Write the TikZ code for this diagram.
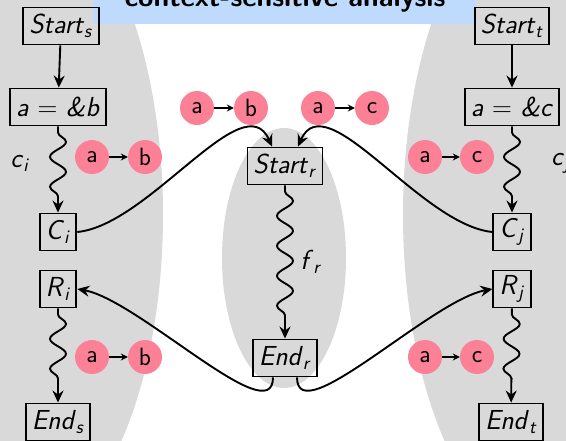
\documentclass[tikz,border=0pt]{standalone}
\usepackage{fix-cm}
\usepackage{amsmath}
\usepackage{fontspec}
\usetikzlibrary{decorations.pathmorphing,arrows.meta}
\definecolor{bggray}{RGB}{217,217,217}
\definecolor{tokpink}{RGB}{252,128,150}
\definecolor{titleblue}{RGB}{190,218,252}
\newcommand\tv[2]{\textsf{\itshape #1}\textsubscript{\textsf{\itshape #2}}}
\newcommand\vi[1]{\textsf{\itshape #1}}
\begin{document}
\begin{tikzpicture}[x=1pt,y=-1pt,
  every node/.style={font=\fontsize{27.5}{32}\selectfont\sffamily},
  stmt/.style={draw,line width=1.9pt,minimum height=37pt,inner xsep=6pt,inner ysep=3pt},
  tok/.style={circle,fill=tokpink,minimum size=34pt,inner sep=0pt,font=\fontsize{25}{28}\selectfont\sffamily},
  conn/.style={line width=1.9pt,-{Stealth[length=12pt,width=11pt,inset=4pt]}},
  wave/.style={conn,decorate,decoration={snake,amplitude=8pt,segment length=30pt,pre length=6pt,post length=13pt}},
  tokarrow/.style={line width=1.1pt,-{Stealth[length=7pt,width=7pt,inset=2.5pt]}},
  lbl/.style={inner sep=0pt}]
\useasboundingbox (0,0) rectangle (566,440);
\clip (0,0) rectangle (566,440);
% background regions
\fill[bggray] (13,215) ellipse [x radius=150, y radius=327];
\fill[bggray] (553,215) ellipse [x radius=150, y radius=327];
\fill[bggray] (284,258) ellipse [x radius=62, y radius=130];
% title
\fill[titleblue] (93,-40) rectangle (476,24);
\node[anchor=base,inner sep=0pt,font=\fontsize{28}{32}\selectfont\sffamily\bfseries] (title) at (285,6) {context-sensitive analysis};
% left procedure
\node[stmt] (Ss) at (61,26) {\tv{Start}{s}};
\node[stmt] (Ab) at (58,107) {\vi{a} $=$ \vi{\&b}};
\node[stmt] (Ci) at (58,232) {\tv{C}{i}};
\node[stmt] (Ri) at (58,289) {\tv{R}{i}};
\node[stmt] (Es) at (58,422) {\tv{End}{s}};
% right procedure
\node[stmt] (St) at (512,26) {\tv{Start}{t}};
\node[stmt] (Ac) at (512,107) {\vi{a} $=$ \vi{\&c}};
\node[stmt] (Cj) at (512,232) {\tv{C}{j}};
\node[stmt] (Rj) at (512,289) {\tv{R}{j}};
\node[stmt] (Et) at (511,422) {\tv{End}{t}};
% callee
\node[stmt] (Sr) at (285,166) {\tv{Start}{r}};
\node[stmt] (Er) at (285,358) {\tv{End}{r}};
% labels
\node[lbl] (ci) at (20,163) {\tv{c}{i}};
\node[lbl,anchor=west] (cj) at (551,163) {\tv{c}{j}};
\node[lbl] (fr) at (311,262) {\tv{f}{r}};
% intra-procedural edges
\draw[conn] (Ss) -- (Ab);
\draw[conn] (St) -- (Ac);
\draw[wave] (Ab) -- (Ci);
\draw[wave] (Ac) -- (Cj);
\draw[wave] (Ri) -- (Es);
\draw[wave] (Rj) -- (Et);
\draw[wave] (Sr) -- (Er);
% call / return edges
\draw[conn] (Ci.east) .. controls +(72,-7) and +(-28,-64) .. ([xshift=-13pt]Sr.north);
\draw[conn] (Cj.west) .. controls +(-72,-7) and +(28,-64) .. ([xshift=13pt]Sr.north);
\draw[conn] ([xshift=-12pt]Er.south) .. controls +(0,55) and +(61,11) .. (Ri.east);
\draw[conn] ([xshift=12pt]Er.south) .. controls +(0,55) and +(-61,11) .. (Rj.west);
% tokens
\foreach \n/\x/\y/\l in {t1a/92/157/a, t1b/145/157/b, t2a/92/357/a, t2b/145/357/b,
                          t3a/197/108/a, t3b/251/108/b, t4a/318/108/a, t4b/372/108/c,
                          t5a/425/157/a, t5b/477/157/c, t6a/425/357/a, t6b/477/357/c}
  \node[tok] (\n) at (\x,\y) {\l};
\foreach \p in {t1,t2,t3,t4,t5,t6}
  \draw[tokarrow] (\p a) -- (\p b);
\end{tikzpicture}
\end{document}
